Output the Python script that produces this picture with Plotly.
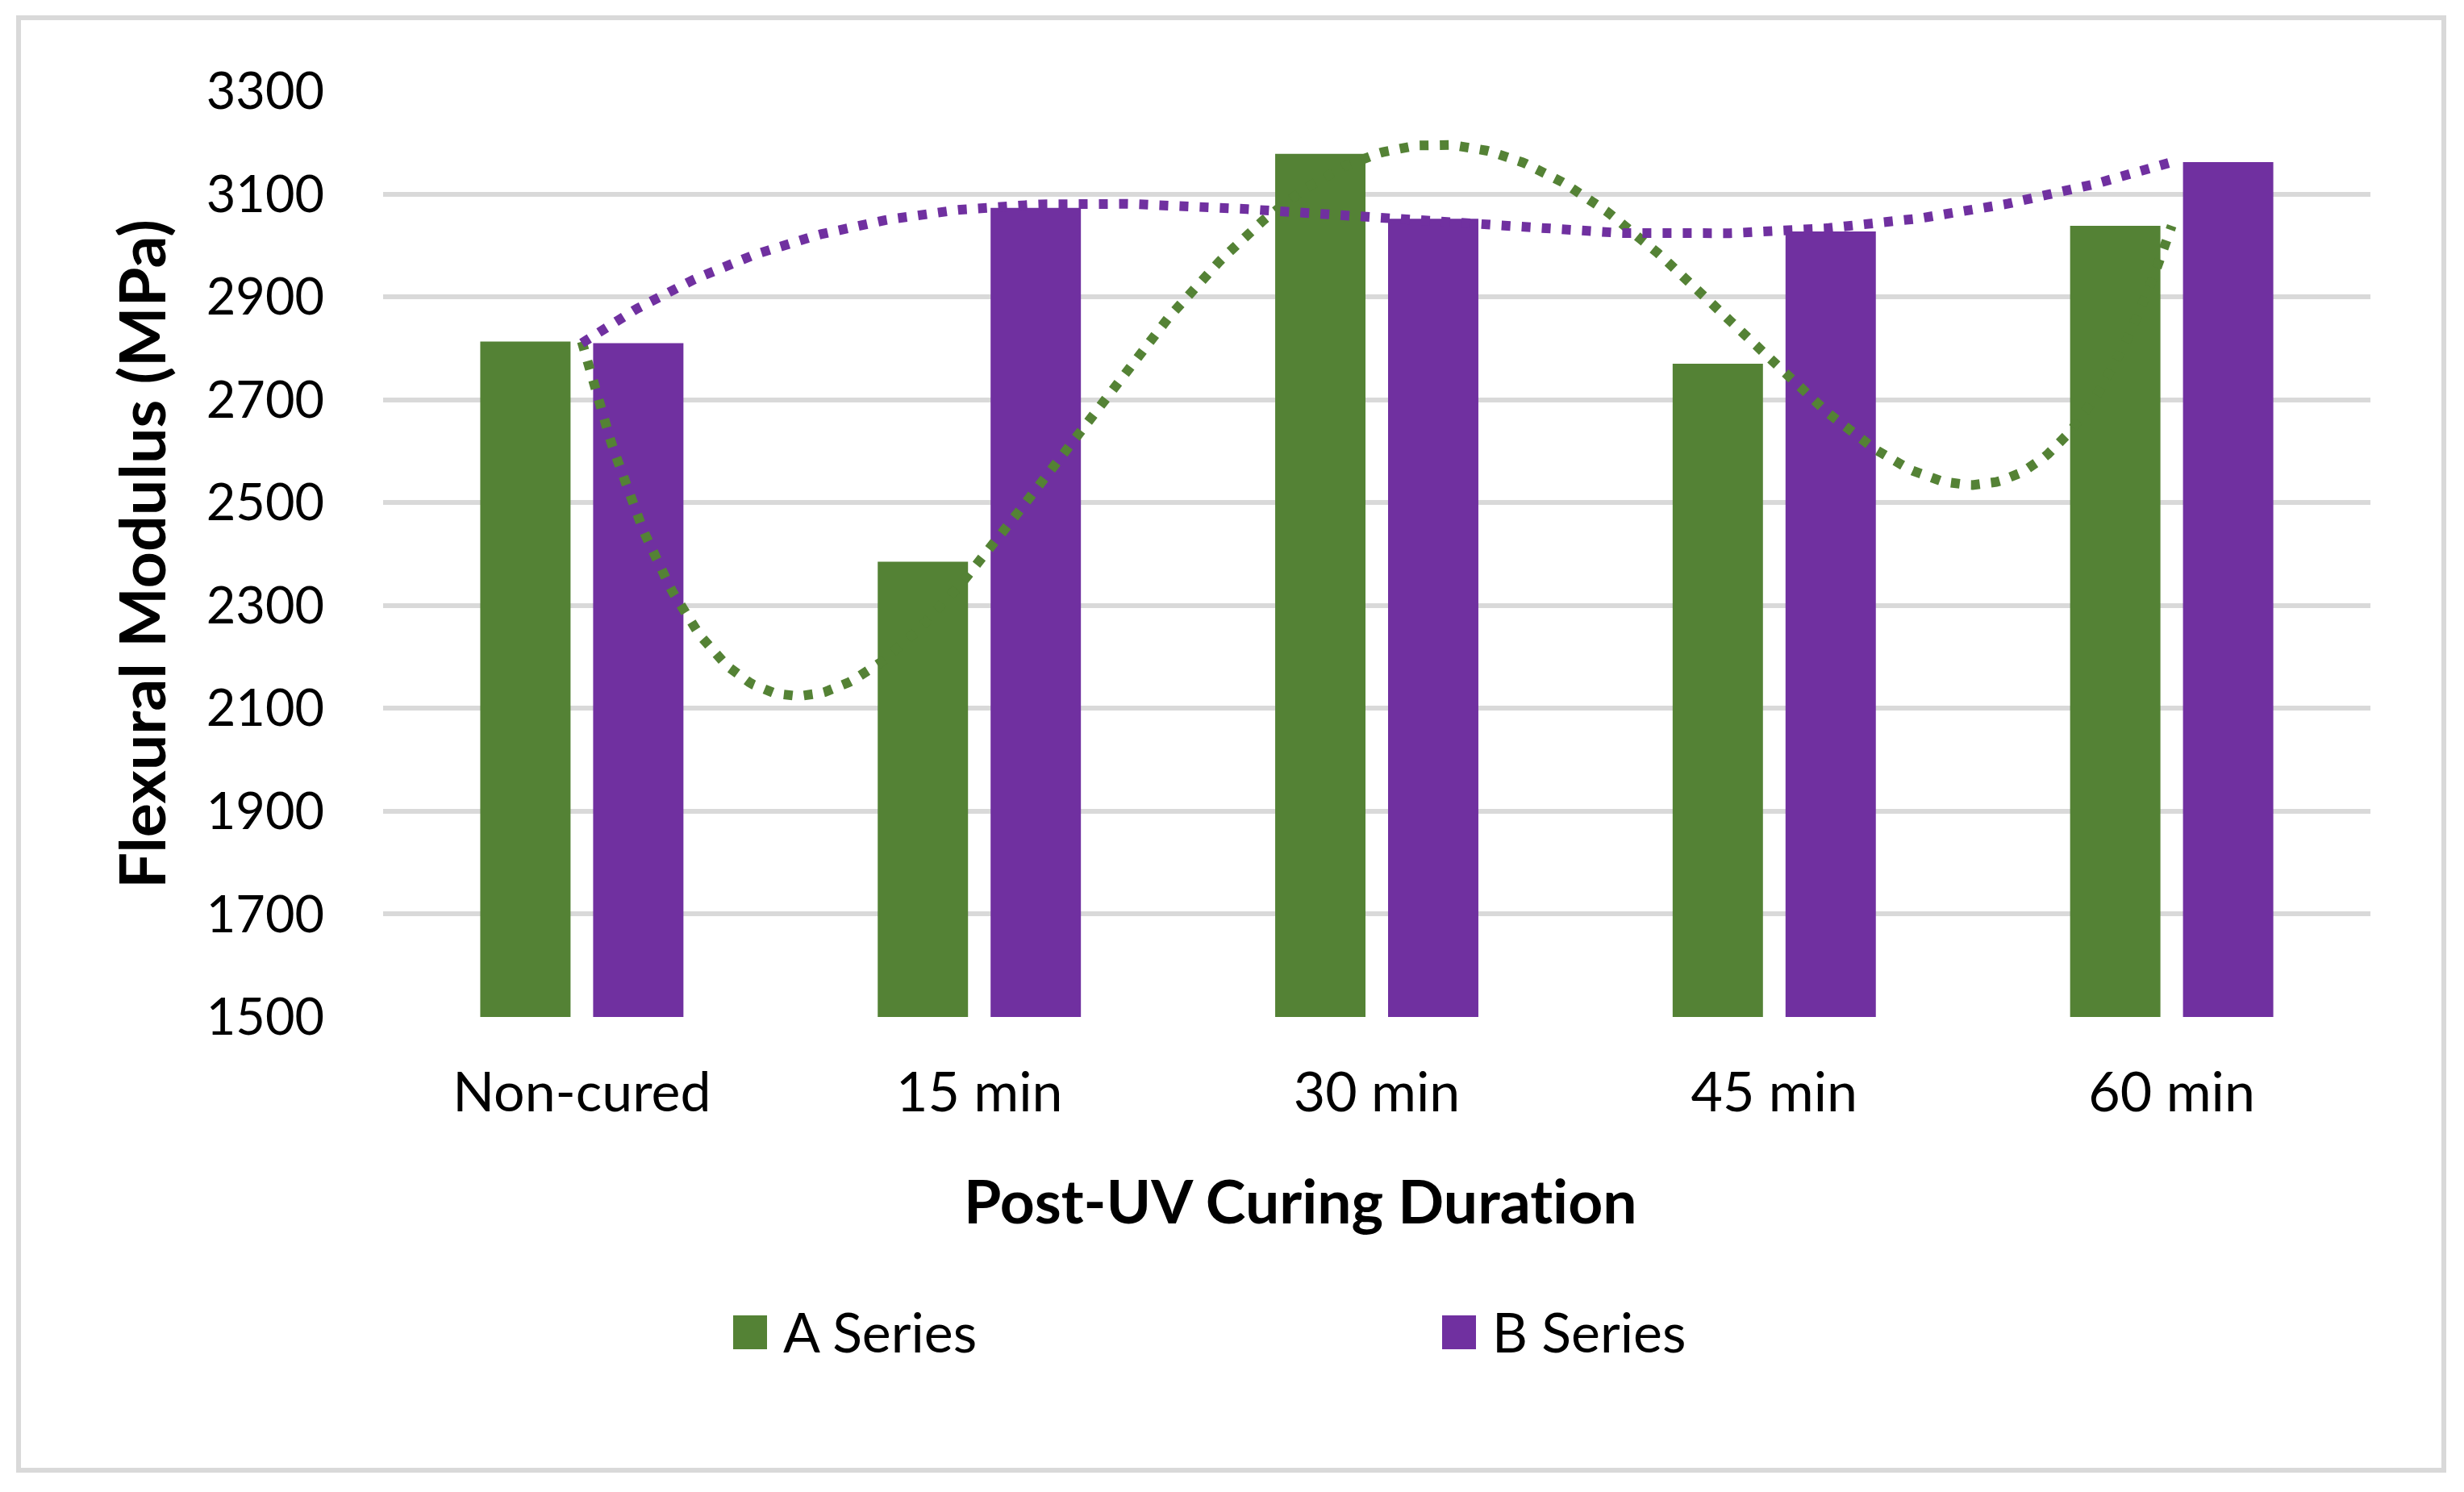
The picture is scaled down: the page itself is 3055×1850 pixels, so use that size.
import numpy as np
import plotly.graph_objects as go

# ---------------- data ----------------
categories = ["Non-cured", "15 min", "30 min", "45 min", "60 min"]
series_names = ["A Series", "B Series"]
a_values = [2813, 2385, 3178, 2770, 3038]
b_values = [2810, 3073, 3052, 3027, 3162]
y_ticks = [1500, 1700, 1900, 2100, 2300, 2500, 2700, 2900, 3100, 3300]
x_title = "Post-UV Curing Durat\u200cion"   # ZWNJ avoids the Lato "ti" ligature
y_title = "Flexural Modulus (MPa)"

# ---------------- style ----------------
colors = ["#548235", "#7030A0"]
FONT = "Lato"
W, H = 3055, 1850
PL, PR, PT, PB = 475, 2939, 113, 1261   # plot area in pixels


def px_x(x):
    return (x - PL) / (PR - PL)


def px_y(y):
    return (PB - y) / (PB - PT)


xpos = list(range(len(categories)))
fig = go.Figure()

for name, vals, col in zip(series_names, [a_values, b_values], colors):
    fig.add_trace(go.Bar(x=xpos, y=vals, name=name, marker=dict(color=col, line=dict(width=0)),
                         showlegend=False))

# polynomial (order 4) trendlines, as in the original chart
xs = np.linspace(0, len(categories) - 1, 400)
for name, vals, col in zip(series_names, [a_values, b_values], colors):
    coef = np.polyfit(xpos, vals, 4)
    fig.add_trace(go.Scatter(x=xs, y=np.polyval(coef, xs), mode="lines",
                             line=dict(color=col, width=12, dash="11px,14px"),
                             showlegend=False, hoverinfo="skip"))

shapes = []
annotations = []
# outer chart border
shapes.append(dict(type="rect", xref="paper", yref="paper",
                   x0=px_x(23), x1=px_x(3030), y0=px_y(1823), y1=px_y(22),
                   line=dict(color="#D9D9D9", width=6), fillcolor="rgba(0,0,0,0)", layer="below"))

# x-axis title (offset from plot centre, as in the original)
annotations.append(dict(xref="paper", yref="paper", x=px_x(1612), y=px_y(1488),
                        xanchor="center", yanchor="middle", showarrow=False,
                        text="<b>" + x_title + "</b>",
                        font=dict(family=FONT, size=75, color="#000000")))

# legend (manual, to match large square keys)
leg_sq_left = [909, 1788]
for name, col, sx in zip(series_names, colors, leg_sq_left):
    shapes.append(dict(type="rect", xref="paper", yref="paper",
                       x0=px_x(sx), x1=px_x(sx + 42), y0=px_y(1673), y1=px_y(1631),
                       line=dict(width=0), fillcolor=col))
    annotations.append(dict(xref="paper", yref="paper", x=px_x(sx + 60), y=px_y(1650),
                            xanchor="left", yanchor="middle", showarrow=False, text=name,
                            font=dict(family=FONT, size=68, color="#000000")))

fig.update_layout(
    width=W, height=H,
    margin=dict(l=PL, r=W - PR, t=PT, b=H - PB, pad=0),
    paper_bgcolor="white", plot_bgcolor="white",
    barmode="group", bargap=0.432, bargroupgap=0.2,
    shapes=shapes, annotations=annotations,
    font=dict(family=FONT, size=65, color="#000000"),
    xaxis=dict(
        range=[-0.5, len(categories) - 0.5],
        tickmode="array", tickvals=xpos, ticktext=categories,
        showgrid=False, zeroline=False, showline=False, ticks="",
        tickfont=dict(family=FONT, size=68, color="#000000"),
        ticklabelstandoff=48,
        fixedrange=True,
    ),
    yaxis=dict(
        range=[1500, 3300],
        tickmode="array", tickvals=y_ticks,
        showgrid=True, gridcolor="#D9D9D9", gridwidth=6,
        zeroline=False, showline=False, ticks="",
        tickfont=dict(family=FONT, size=63, color="#000000"),
        ticklabelstandoff=72,
        title=dict(text="<b>" + y_title + "</b>", standoff=24,
                   font=dict(family=FONT, size=79, color="#000000")),
        fixedrange=True,
    ),
    showlegend=False,
)

fig.write_html("out.html", config={"displayModeBar": False},
               post_script="document.body.style.margin='0px';")
